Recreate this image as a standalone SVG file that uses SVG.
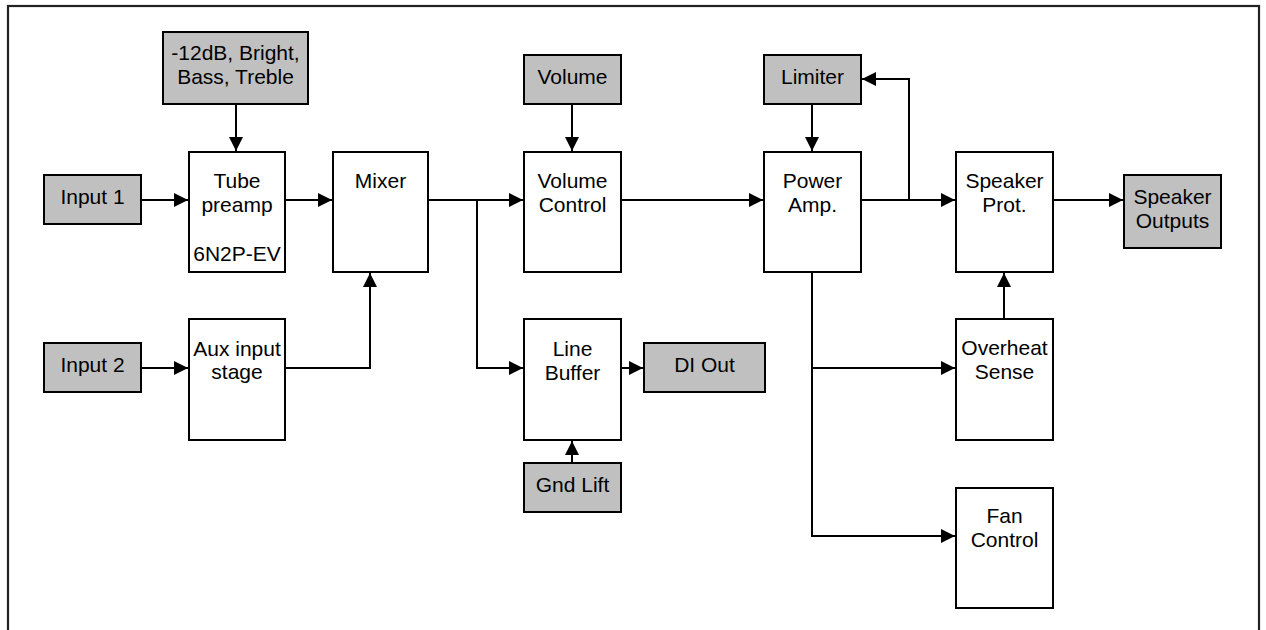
<svg xmlns="http://www.w3.org/2000/svg" width="1266" height="630" viewBox="0 0 1266 630">
<defs>
<marker id="ah" markerUnits="userSpaceOnUse" markerWidth="14" markerHeight="14" refX="14" refY="7" orient="auto">
<path d="M0,0 L14,7 L0,14 z" fill="#000"/>
</marker>
<style>
.blk{fill:#fff;stroke:#000;stroke-width:2}
.ctl{fill:#c0c0c0;stroke:#000;stroke-width:2}
.t{font-family:"Liberation Sans",Arial,sans-serif;font-size:21px;fill:#000;text-anchor:middle}
.c{fill:none;stroke:#000;stroke-width:2;marker-end:url(#ah)}
.w{fill:none;stroke:#000;stroke-width:2}
</style>
</defs>
<rect width="1266" height="630" fill="#fff"/>
<rect x="8" y="6" width="1251" height="700" fill="none" stroke="#222" stroke-width="2.2"/>

<g id="connectors">
<path class="c" d="M236,104 V151"/>
<path class="c" d="M141,200 H188"/>
<path class="c" d="M285,200 H332"/>
<path class="c" d="M428,200 H523"/>
<path class="c" d="M477,200 V368 H523"/>
<path class="c" d="M285,368 H370 V273"/>
<path class="c" d="M141,368 H188"/>
<path class="c" d="M572,104 V151"/>
<path class="c" d="M621,368 H643"/>
<path class="c" d="M572,463 V441"/>
<path class="c" d="M621,200 H763"/>
<path class="c" d="M812,104 V151"/>
<path class="c" d="M861,200 H955"/>
<path class="c" d="M909,200 V79 H862"/>
<path class="c" d="M1053,200 H1123"/>
<path class="c" d="M1004,319 V273"/>
<path class="c" d="M812,272 V536 H955"/>
<path class="c" d="M812,368 H955"/>
</g>

<g id="tone"><rect class="ctl" x="163" y="32" width="145" height="72"/><text class="t" x="235.5" y="60">-12dB, Bright,</text><text class="t" x="235.5" y="84">Bass, Treble</text></g>
<g id="input1"><rect class="ctl" x="44" y="175" width="97" height="49"/><text class="t" x="92.5" y="204">Input 1</text></g>
<g id="tube"><rect class="blk" x="189" y="152" width="96" height="120"/><text class="t" x="237" y="188">Tube</text><text class="t" x="237" y="212">preamp</text><text class="t" x="237" y="261">6N2P-EV</text></g>
<g id="mixer"><rect class="blk" x="333" y="152" width="95" height="120"/><text class="t" x="380.5" y="188">Mixer</text></g>
<g id="input2"><rect class="ctl" x="44" y="343" width="97" height="49"/><text class="t" x="92.5" y="372">Input 2</text></g>
<g id="aux"><rect class="blk" x="189" y="319" width="96" height="121"/><text class="t" x="237" y="356">Aux input</text><text class="t" x="237" y="379">stage</text></g>
<g id="volume"><rect class="ctl" x="524" y="55" width="97" height="49"/><text class="t" x="572.5" y="84">Volume</text></g>
<g id="volctrl"><rect class="blk" x="524" y="152" width="97" height="120"/><text class="t" x="572.5" y="188">Volume</text><text class="t" x="572.5" y="212">Control</text></g>
<g id="linebuf"><rect class="blk" x="524" y="319" width="97" height="121"/><text class="t" x="572.5" y="356">Line</text><text class="t" x="572.5" y="380">Buffer</text></g>
<g id="diout"><rect class="ctl" x="644" y="343" width="121" height="49"/><text class="t" x="704.5" y="372">DI Out</text></g>
<g id="gndlift"><rect class="ctl" x="524" y="463" width="97" height="49"/><text class="t" x="572.5" y="492">Gnd Lift</text></g>
<g id="limiter"><rect class="ctl" x="764" y="55" width="97" height="49"/><text class="t" x="812.5" y="84">Limiter</text></g>
<g id="poweramp"><rect class="blk" x="764" y="152" width="97" height="120"/><text class="t" x="812.5" y="188">Power</text><text class="t" x="812.5" y="212">Amp.</text></g>
<g id="spkprot"><rect class="blk" x="956" y="152" width="97" height="120"/><text class="t" x="1004.5" y="188">Speaker</text><text class="t" x="1004.5" y="212">Prot.</text></g>
<g id="spkout"><rect class="ctl" x="1124" y="175" width="97" height="73"/><text class="t" x="1172.5" y="204">Speaker</text><text class="t" x="1172.5" y="228">Outputs</text></g>
<g id="overheat"><rect class="blk" x="956" y="319" width="97" height="121"/><text class="t" x="1004.5" y="355">Overheat</text><text class="t" x="1004.5" y="379">Sense</text></g>
<g id="fan"><rect class="blk" x="956" y="488" width="97" height="120"/><text class="t" x="1004.5" y="523">Fan</text><text class="t" x="1004.5" y="547">Control</text></g>
</svg>
